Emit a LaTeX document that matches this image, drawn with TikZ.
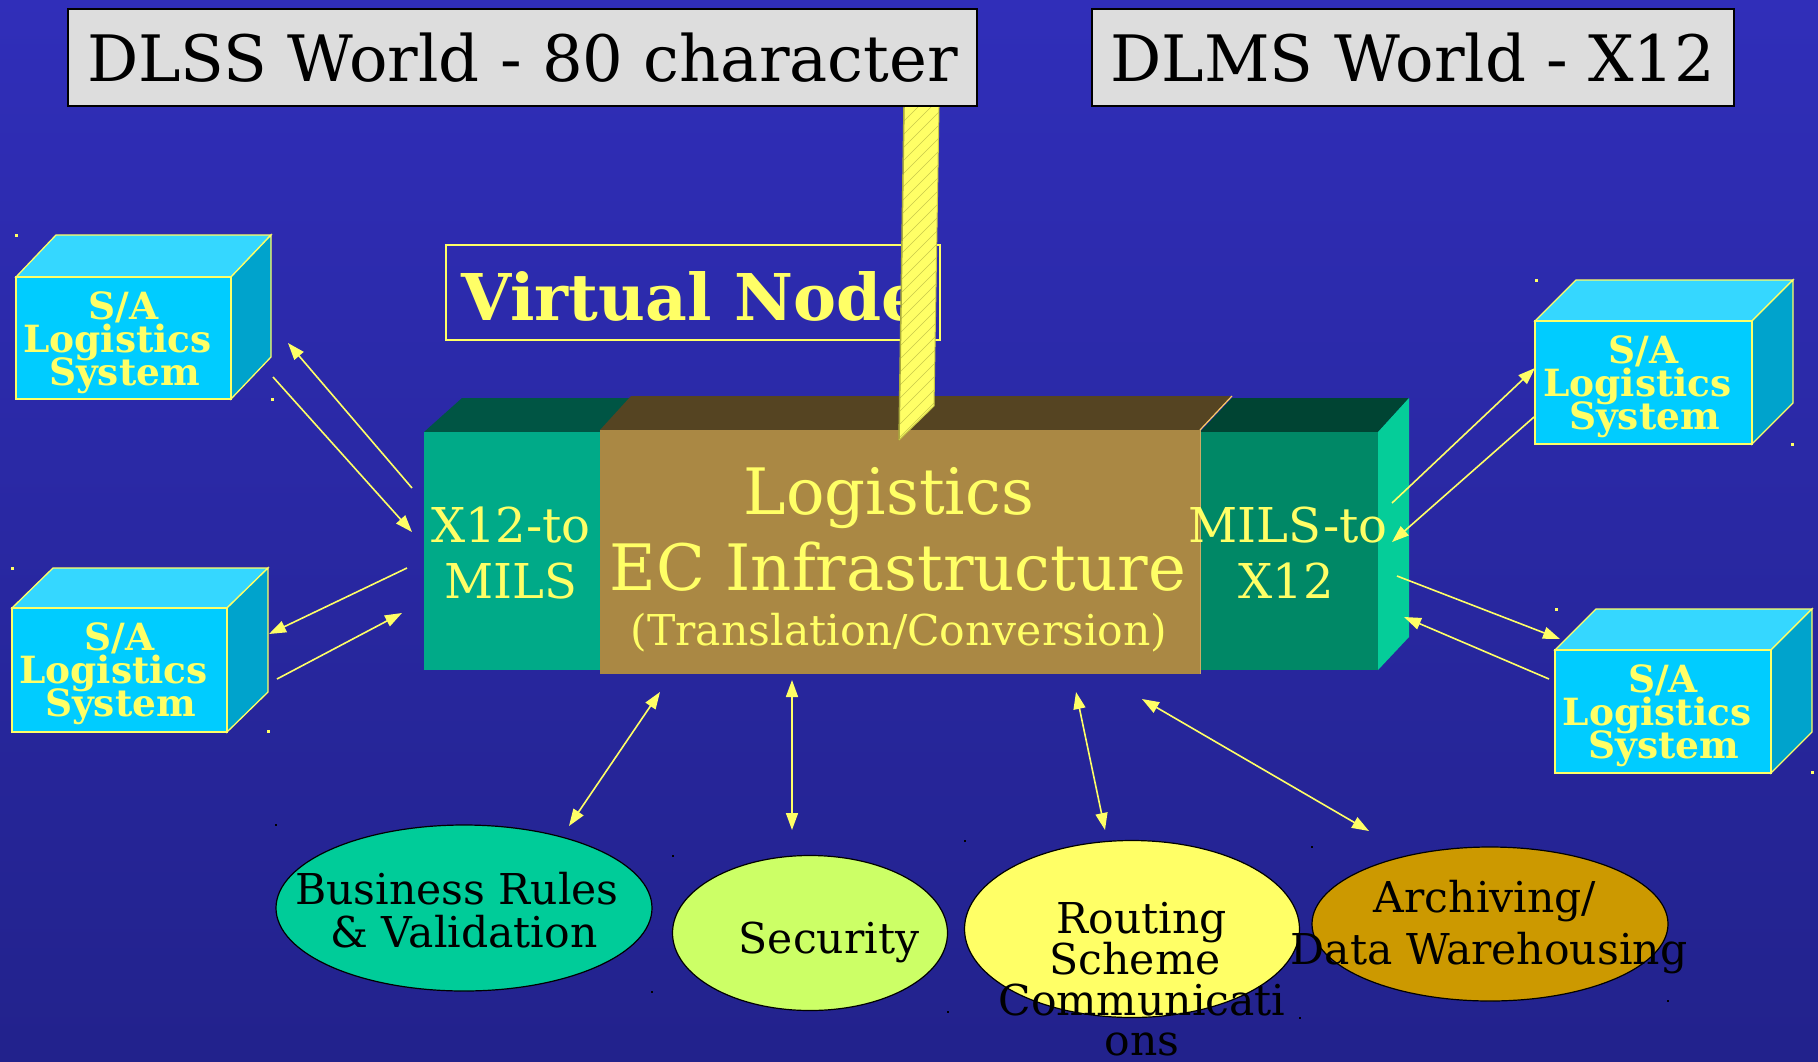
\documentclass[tikz,border=0pt]{standalone}
\usepackage{fontspec}
\setmainfont{DejaVu Serif}
\usetikzlibrary{arrows.meta,shapes.geometric}
\definecolor{yel}{HTML}{FFFF66}
\definecolor{bgtop}{RGB}{48,46,185}
\definecolor{bgbot}{RGB}{34,34,140}
\definecolor{titlegray}{HTML}{DDDDDD}
\definecolor{cyanfront}{HTML}{00CCFF}
\definecolor{cyantop}{HTML}{35D7FF}
\definecolor{cyanside}{HTML}{00A3CC}
\definecolor{lgfront}{HTML}{00AA88}
\definecolor{lgtop}{HTML}{005544}
\definecolor{brfront}{HTML}{AA8844}
\definecolor{brtop}{HTML}{554422}
\definecolor{bredge}{HTML}{FFCC66}
\definecolor{bredgeb}{HTML}{CCAA66}
\definecolor{rgfront}{HTML}{008866}
\definecolor{rgtop}{HTML}{004433}
\definecolor{rgside}{HTML}{05CD99}
\definecolor{ellgreen}{HTML}{00CC99}
\definecolor{elllime}{HTML}{CCFF66}
\definecolor{ellyel}{HTML}{FFFF66}
\definecolor{ellgold}{HTML}{CC9900}
\definecolor{hatchcol}{HTML}{C9C94A}
\definecolor{postedge}{HTML}{AAAA3C}
\definecolor{postedgeb}{HTML}{C8C846}
\newcommand\myfs[1]{\fontsize{#1}{#1}\selectfont}
\tikzset{
  titlebox/.style={draw=black, line width=1.5pt, fill=titlegray, inner sep=0pt, font=\myfs{64}},
  satext/.style={text=yel, font=\bfseries\myfs{37.5}, inner sep=0pt, anchor=base},
  blocktext/.style={text=yel, inner sep=0pt, anchor=base},
  elltext/.style={text=black, font=\myfs{42.5}, inner sep=0pt, anchor=base},
  ell/.style={ellipse, draw=black, line width=1.2pt, inner sep=0pt},
  arr/.style={draw=yel, line width=1.6pt, -{Triangle[length=17pt,width=12pt]}},
  darr/.style={draw=yel, line width=1.6pt, {Triangle[length=17pt,width=12pt]}-{Triangle[length=17pt,width=12pt]}},
  speck/.style={fill=yel},
  bspeck/.style={fill=black},
}
% name, x1, y1, x2, y2, dx, dy
\newcommand\salog[7]{%
  \filldraw[draw=yel, line width=1.3pt, fill=cyantop] (#2,#3) -- (#2+#6,#3+#7) -- (#4+#6,#3+#7) -- (#4,#3) -- cycle;
  \filldraw[draw=yel, line width=1.3pt, fill=cyanside] (#4,#3) -- (#4+#6,#3+#7) -- (#4+#6,#5+#7) -- (#4,#5) -- cycle;
  \filldraw[draw=yel, line width=1.3pt, fill=cyanfront] (#2,#3) rectangle (#4,#5);
  \coordinate (#1) at ({(#2+#4)/2},{(#3+#5)/2});
  \node[satext] (#1a) at ({(#2+#4)/2},#3+42) {S/A};
  \node[satext] (#1b) at ({(#2+#4)/2-6},#3+75) {Logistics};
  \node[satext] (#1c) at ({(#2+#4)/2+1},#3+108) {System};
}
\begin{document}
\begin{tikzpicture}[x=1pt,y=-1pt]
\useasboundingbox (0,0) rectangle (1818,1061);
\shade[top color=bgtop,bottom color=bgbot] (0,0) rectangle (1818,1061);

% title boxes
\node[titlebox, minimum width=909pt, minimum height=97pt] (dlss) at (522.5,57.5) {DLSS World - 80 character};
\node[titlebox, minimum width=642pt, minimum height=97pt] (dlms) at (1413,57.5) {DLMS World - X12};

% virtual node box
\node[draw=yel, line width=1.5pt, minimum width=494pt, minimum height=95pt, inner sep=0pt] (vn) at (693,292.5) {};
\node[text=yel, font=\bfseries\myfs{64.5}, inner sep=0pt, anchor=base] (vntext) at (692,320) {Virtual Node};

% S/A logistics systems
\salog{sa1}{16}{277}{231}{399}{40}{-42}
\salog{sa2}{12}{608}{227}{732}{41}{-40}
\salog{sa3}{1535}{321}{1752}{444}{41}{-41}
\salog{sa4}{1555}{650}{1771}{773}{41}{-41}

% specks
\foreach \p in {(16,235),(272,399),(12,568),(268,731),(1536,280),(1792,444),(1556,609),(1812,772)}
  \fill[speck] \p ++(-1.5,-1.5) rectangle ++(3,3);
\foreach \p in {(276,825),(673,856),(652,992),(965,841),(948,1012),(1312,847),(1300,1018),(1668,1001)}
  \fill[bspeck] \p ++(-1.2,-1.2) rectangle ++(2.4,2.4);

% central structure
\fill[lgtop] (424,432) -- (462,398) -- (650,398) -- (600,432) -- cycle;
\fill[lgfront] (424,432) rectangle (600,670);
\fill[rgtop] (1200,432) -- (1232,398) -- (1409,398) -- (1378,432) -- cycle;
\fill[rgside] (1378,432) -- (1409,398) -- (1409,637) -- (1378,670) -- cycle;
\fill[rgfront] (1200,432) rectangle (1378,670);
\fill[brtop] (600,430) -- (631,396) -- (1232,396) -- (1200,430) -- cycle;
\node[fill=brfront, minimum width=600pt, minimum height=244pt, inner sep=0pt] (ec) at (900,552) {};
\draw[bredge, line width=1.2pt] (1200,430) -- (1232,396);
\draw[bredgeb, line width=1pt] (1200,430) -- (1200,674);

\node[blocktext, font=\myfs{64}] (ec1) at (889,514) {Logistics};
\node[blocktext, font=\myfs{64}] (ec2) at (898,590) {EC Infrastructure};
\node[blocktext, font=\myfs{42.5}] (ec3) at (899,645) {(Translation/Conversion)};
\node[blocktext, font=\myfs{48}] (x1) at (511,542) {X12-to};
\node[blocktext, font=\myfs{48}] (x2) at (511,598) {MILS};
\node[blocktext, font=\myfs{48}] (m1) at (1288,542) {MILS-to};
\node[blocktext, font=\myfs{48}] (m2) at (1286,598) {X12};

% yellow post
\begin{scope}
  \clip (904,107) -- (939,107) -- (934,406) -- (899,440) -- cycle;
  \fill[yel] (890,100) rectangle (950,450);
  \foreach \k in {0,...,26} \draw[hatchcol, line width=0.6pt] (900,{125+13*\k}) -- ++(40,-40);
\end{scope}
\draw[postedge, line width=1.5pt] (904,107) -- (899,440);
\draw[postedgeb, line width=1pt] (899,440) -- (934,406) -- (939,107);

% bottom ellipses
\node[ell, fill=ellgreen, minimum width=376pt, minimum height=166pt] (br) at (464,908) {};
\node[ell, fill=elllime, minimum width=275pt, minimum height=155pt] (sec) at (810,933) {};
\node[ell, fill=ellyel, minimum width=335pt, minimum height=177pt] (rt) at (1132,929) {};
\node[ell, fill=ellgold, minimum width=356pt, minimum height=154pt] (arc) at (1490,924) {};

\node[elltext] (br1) at (457,904) {Business Rules};
\node[elltext] (br2) at (464,947) {\& Validation};
\node[elltext] (sec1) at (829,953) {Security};
\node[elltext] (rt1) at (1142,933) {Routing};
\node[elltext] (rt2) at (1135,974) {Scheme};
\node[elltext] (rt3) at (1142,1015) {Communicati};
\node[elltext] (rt4) at (1142,1055) {ons};
\node[elltext] (arc1) at (1485,912) {Archiving/};
\node[elltext] (arc2) at (1489,964) {Data Warehousing};

% connector end points
\coordinate (a1s) at (412,488); \coordinate (a1e) at (288,343);
\coordinate (a2s) at (273,377); \coordinate (a2e) at (412,532);
\coordinate (a3s) at (407,568); \coordinate (a3e) at (269,634);
\coordinate (a4s) at (277,679); \coordinate (a4e) at (402,613);
\coordinate (a5s) at (1392,503); \coordinate (a5e) at (1535,368);
\coordinate (a6s) at (1534,417); \coordinate (a6e) at (1392,542);
\coordinate (a7s) at (1397,576); \coordinate (a7e) at (1560,639);
\coordinate (a8s) at (1549,679); \coordinate (a8e) at (1404,617);
\coordinate (b1s) at (660,692); \coordinate (b1e) at (569,826);
\coordinate (b2s) at (792,680); \coordinate (b2e) at (792,830);
\coordinate (b3s) at (1076,692); \coordinate (b3e) at (1105,830);
\coordinate (b4s) at (1142,699); \coordinate (b4e) at (1369,831);

\draw[arr] (a1s) -- (a1e);
\draw[arr] (a2s) -- (a2e);
\draw[arr] (a3s) -- (a3e);
\draw[arr] (a4s) -- (a4e);
\draw[arr] (a5s) -- (a5e);
\draw[arr] (a6s) -- (a6e);
\draw[arr] (a7s) -- (a7e);
\draw[arr] (a8s) -- (a8e);
\draw[darr] (b1s) -- (b1e);
\draw[darr] (b2s) -- (b2e);
\draw[darr] (b3s) -- (b3e);
\draw[darr] (b4s) -- (b4e);
\end{tikzpicture}
\end{document}
